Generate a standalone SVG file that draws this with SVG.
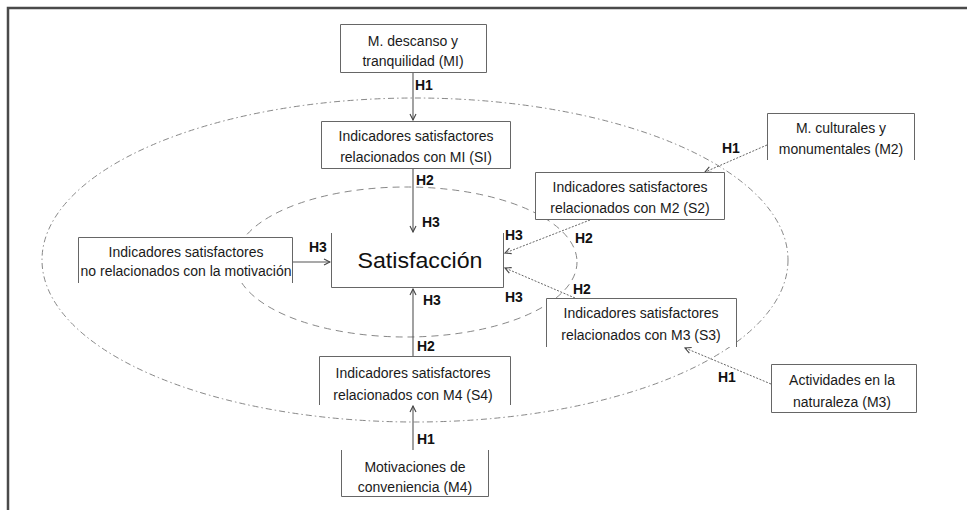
<svg xmlns="http://www.w3.org/2000/svg" width="967" height="510" viewBox="0 0 967 510">
<defs>
<style>
.bg{fill:#fff;stroke:none}
.edge{fill:none;stroke:#666;stroke-width:1}
.t{font-family:"Liberation Sans",Arial,sans-serif;font-size:14px;fill:#1a1a1a;text-anchor:middle}
.h{font-family:"Liberation Sans",Arial,sans-serif;font-size:14px;font-weight:bold;fill:#111}
.solid{fill:none;stroke:#555;stroke-width:1.1;marker-end:url(#arr)}
.dot{fill:none;stroke:#666;stroke-width:1;stroke-dasharray:2 1.5;marker-end:url(#arr)}
.ell{fill:none;stroke:#888;stroke-width:1}
</style>
<marker id="arr" viewBox="0 0 8 8" refX="7" refY="4" markerWidth="8" markerHeight="8" markerUnits="userSpaceOnUse" orient="auto">
<path d="M1,1 L7,4 L1,7" fill="none" stroke="#444" stroke-width="1.1"/>
</marker>
</defs>
<rect width="967" height="510" fill="#fff"/>
<path d="M8,510 V8 H967" fill="none" stroke="#4a4a4a" stroke-width="2.5"/>

<g id="ellipses">
<ellipse class="ell" cx="415" cy="260" rx="373" ry="162" stroke-dasharray="6 3 1.5 3"/>
<ellipse class="ell" cx="406" cy="262" rx="171" ry="75" stroke-dasharray="7 5"/>
</g>

<g id="connectors">
<line class="solid" x1="413" y1="73" x2="413" y2="120"/>
<line class="solid" x1="413" y1="169" x2="413" y2="232" stroke="#333" stroke-width="1.4"/>
<line class="solid" x1="293" y1="262" x2="330" y2="262"/>
<line class="solid" x1="413" y1="356" x2="413" y2="289"/>
<line class="solid" x1="413" y1="450" x2="413" y2="406"/>
<line class="dot" x1="767" y1="145" x2="705" y2="172"/>
<line class="dot" x1="590" y1="220" x2="505" y2="253"/>
<line class="dot" x1="575" y1="298" x2="505" y2="268"/>
<line class="dot" x1="771" y1="384" x2="685" y2="348"/>
<text class="h" x="415" y="90">H1</text>
<text class="h" x="416" y="185">H2</text>
<text class="h" x="422" y="227">H3</text>
<text class="h" x="309" y="252">H3</text>
<text class="h" x="505" y="240">H3</text>
<text class="h" x="505" y="302">H3</text>
<text class="h" x="423" y="305">H3</text>
<text class="h" x="722" y="153">H1</text>
<text class="h" x="575" y="243">H2</text>
<text class="h" x="573" y="294">H2</text>
<text class="h" x="718" y="382">H1</text>
<text class="h" x="417" y="351">H2</text>
<text class="h" x="417" y="444">H1</text>
</g>

<g id="m1">
<rect class="bg" x="340" y="24" width="147" height="49"/>
<path class="edge" d="M340.5,24.5 H486.5 V72.5 H340.5 Z"/>
<text class="t" x="413" y="46">M. descanso y</text>
<text class="t" x="413" y="66">tranquilidad (MI)</text>
</g>

<g id="s1">
<rect class="bg" x="321" y="121" width="190" height="48"/>
<path class="edge" d="M321.5,121.5 H510.5 V168.5 H321.5 Z"/>
<text class="t" x="416" y="141">Indicadores satisfactores</text>
<text class="t" x="416" y="162">relacionados con MI (SI)</text>
</g>

<g id="m2">
<rect class="bg" x="767" y="113" width="148" height="47"/>
<path class="edge" d="M767.5,160 V113.5 H914.5 V160"/>
<text class="t" x="841" y="133">M. culturales y</text>
<text class="t" x="841" y="154">monumentales (M2)</text>
</g>

<g id="s2">
<rect class="bg" x="535" y="172" width="190" height="48"/>
<path class="edge" d="M535.5,172.5 H724.5 V219.5 H535.5 Z"/>
<text class="t" x="630" y="192">Indicadores satisfactores</text>
<text class="t" x="630" y="213">relacionados con M2 (S2)</text>
</g>

<g id="nr">
<rect class="bg" x="78" y="237" width="215" height="46"/>
<path class="edge" d="M78.5,283 V237.5 H292.5 V283"/>
<text class="t" x="186" y="257">Indicadores satisfactores</text>
<text class="t" x="186" y="276">no relacionados con la motivación</text>
</g>

<g id="sat">
<rect class="bg" x="331" y="233" width="173" height="55"/>
<path class="edge" d="M331.5,233 V287.5 H503.5 V233" stroke="#555"/>
<text x="420" y="268" style="font-family:'Liberation Sans',Arial,sans-serif;font-size:22px;fill:#111;text-anchor:middle" textLength="125" lengthAdjust="spacingAndGlyphs">Satisfacción</text>
</g>

<g id="s3">
<rect class="bg" x="546" y="298" width="191" height="49"/>
<path class="edge" d="M546.5,347 V298.5 H736.5 V347"/>
<text class="t" x="641" y="318">Indicadores satisfactores</text>
<text class="t" x="641" y="340">relacionados con M3 (S3)</text>
</g>

<g id="m3">
<rect class="bg" x="771" y="364" width="146" height="49"/>
<path class="edge" d="M771.5,364.5 H916.5 V412.5 H771.5 Z"/>
<text class="t" x="842" y="385">Actividades en la</text>
<text class="t" x="842" y="407">naturaleza (M3)</text>
</g>

<g id="s4">
<rect class="bg" x="319" y="356" width="192" height="49"/>
<path class="edge" d="M319.5,405 V356.5 H510.5 V405"/>
<text class="t" x="413" y="378">Indicadores satisfactores</text>
<text class="t" x="413" y="400">relacionados con M4 (S4)</text>
</g>

<g id="m4">
<rect class="bg" x="341" y="450" width="148" height="47"/>
<path class="edge" d="M341.5,450 V496.5 H488.5 V450"/>
<text class="t" x="415" y="472">Motivaciones de</text>
<text class="t" x="415" y="492">conveniencia (M4)</text>
</g>
</svg>
